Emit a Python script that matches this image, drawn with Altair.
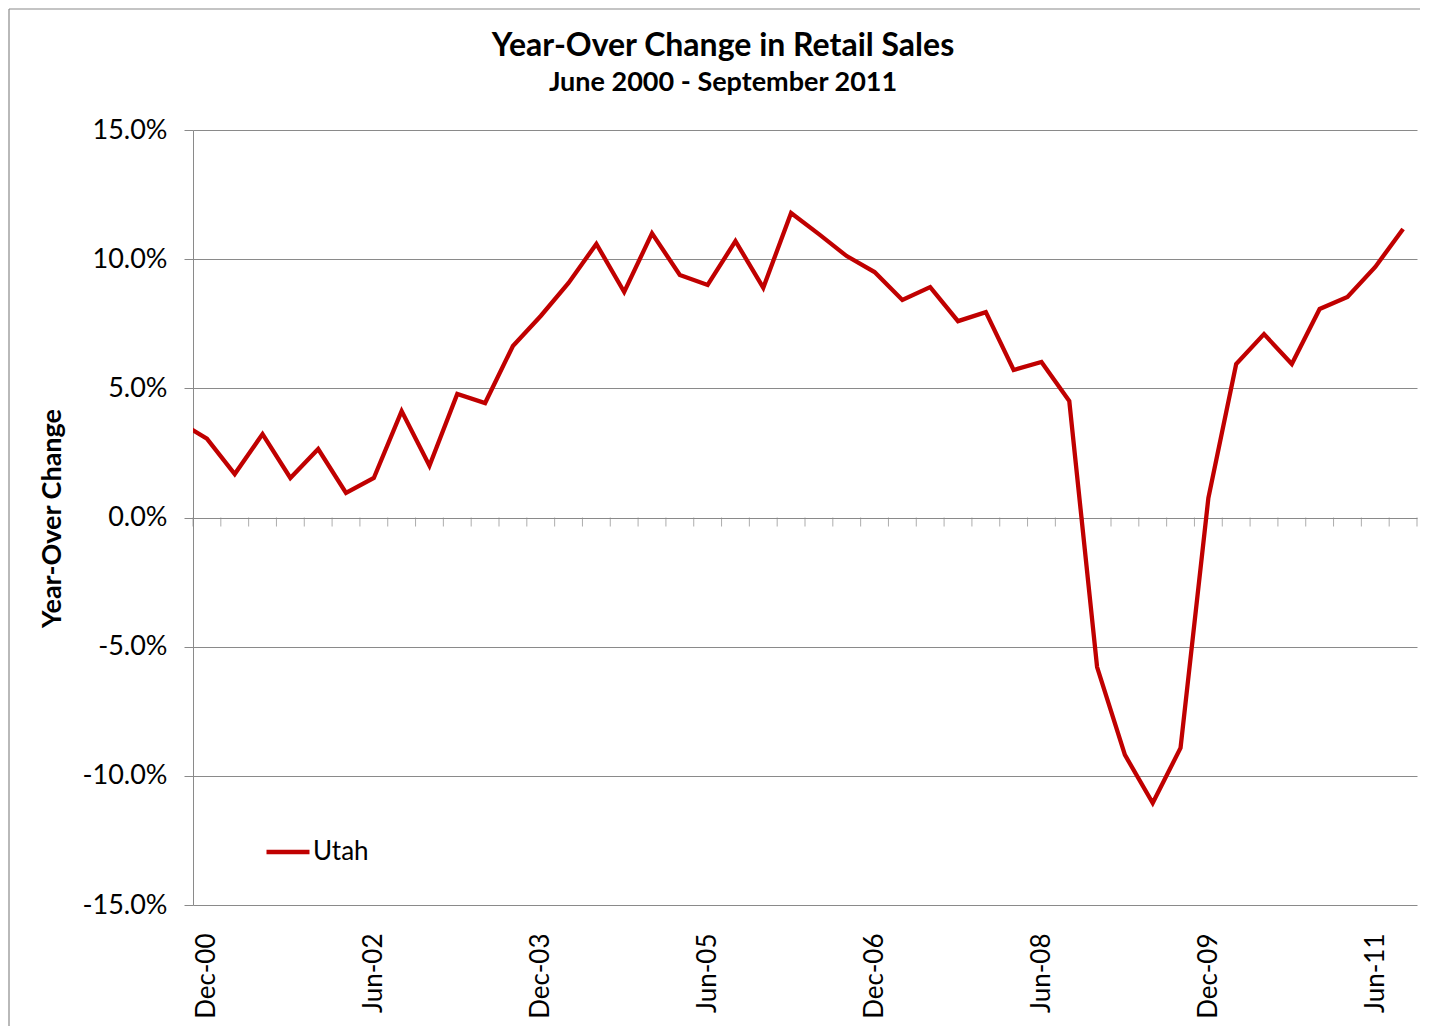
import altair as alt
import pandas as pd

# Quarterly year-over change in Utah retail sales (first value lies left of the plotted window)
quarters = ["Sep-00", "Dec-00",
            "Mar-01", "Jun-01", "Sep-01", "Dec-01",
            "Mar-02", "Jun-02", "Sep-02", "Dec-02",
            "Mar-03", "Jun-03", "Sep-03", "Dec-03",
            "Mar-04", "Jun-04", "Sep-04", "Dec-04",
            "Mar-05", "Jun-05", "Sep-05", "Dec-05",
            "Mar-06", "Jun-06", "Sep-06", "Dec-06",
            "Mar-07", "Jun-07", "Sep-07", "Dec-07",
            "Mar-08", "Jun-08", "Sep-08", "Dec-08",
            "Mar-09", "Jun-09", "Sep-09", "Dec-09",
            "Mar-10", "Jun-10", "Sep-10", "Dec-10",
            "Mar-11", "Jun-11", "Sep-11"]
utah = [3.70, 3.05,
        1.68, 3.23, 1.53, 2.65,
        0.95, 1.53, 4.12, 2.00,
        4.78, 4.43, 6.64, 7.80,
        9.08, 10.59, 8.73, 11.00,
        9.39, 9.00, 10.70, 8.89,
        11.79, 10.97, 10.12, 9.50,
        8.42, 8.92, 7.60, 7.95,
        5.71, 6.02, 4.51, -5.79,
        -9.19, -11.05, -8.92, 0.75,
        5.94, 7.10, 5.94, 8.07,
        8.54, 9.70, 11.17]
series_name = "Utah"
axis_labels = ["Dec-00", "Jun-02", "Dec-03", "Jun-05", "Dec-06", "Jun-08", "Dec-09", "Jun-11"]
y_ticks = [-0.15, -0.10, -0.05, 0.0, 0.05, 0.10, 0.15]

first_shown = quarters.index("Dec-00")
idx = [i - first_shown for i in range(len(quarters))]
df = pd.DataFrame({"idx": idx, "quarter": quarters,
                   "value": [v / 100 for v in utah], "series": series_name})
last_idx = idx[-1]
label_pos = [idx[quarters.index(q)] for q in axis_labels]
bounds = pd.DataFrame({"idx": [k - 0.5 for k in range(0, last_idx + 2)]})

FONT = "Lato"
GRID = "#8a8a8a"
RED = "#C00000"

x_scale = alt.Scale(domain=[-0.5, last_idx + 0.5], nice=False, zero=False)
y_scale = alt.Scale(domain=[y_ticks[0], y_ticks[-1]], nice=False)

label_arr = "[" + ",".join("'%s'" % s for s in axis_labels) + "]"

line = alt.Chart(df).mark_line(strokeWidth=4.3, clip=True).encode(
    x=alt.X("idx:Q", scale=x_scale, title=None,
            axis=alt.Axis(values=label_pos,
                          labelExpr=label_arr + "[round(datum.value/6)]",
                          labelAngle=270, ticks=False, tickSize=0, domain=False,
                          grid=False, labelPadding=28, labelFontSize=26,
                          labelFont=FONT, labelColor="black")),
    y=alt.Y("value:Q", scale=y_scale, title="Year-Over Change",
            axis=alt.Axis(values=y_ticks,
                          labelExpr="replace(format(datum.value, '.1%'), '\u2212', '-')",
                          grid=True, gridColor=GRID, gridWidth=1,
                          domain=True, domainColor=GRID, domainWidth=1,
                          ticks=True, tickColor=GRID, tickSize=9, tickWidth=1,
                          labelPadding=17, labelFontSize=27, labelFont=FONT,
                          labelColor="black",
                          titleFont=FONT, titleFontSize=27, titleFontWeight="bold",
                          titleColor="black", titleX=-141, titleY=388,
                          titleAlign="center", titleBaseline="middle", titleAngle=270)),
    color=alt.Color("series:N", scale=alt.Scale(range=[RED]),
                    legend=alt.Legend(title=None, orient="none", legendX=71, legendY=698,
                                      symbolType="stroke", symbolSize=1849,
                                      symbolStrokeWidth=4.3, labelFont=FONT,
                                      labelFontSize=26, labelColor="black",
                                      labelOffset=1, padding=0)),
)

ticks = alt.Chart(bounds).mark_tick(orient="vertical", size=9, thickness=1,
                                    color=GRID, yOffset=4.5).encode(
    x=alt.X("idx:Q", scale=x_scale),
    y=alt.datum(0),
)

# outer chart-area frame: only its top and left edges fall inside the picture
frame = pd.DataFrame({"a": [0]})
frame_top = alt.Chart(frame).mark_rule(color=GRID, strokeWidth=1.2, clip=False).encode(
    x=alt.value(-184), x2=alt.value(1227), y=alt.value(-121))
frame_left = alt.Chart(frame).mark_rule(color=GRID, strokeWidth=1.2, clip=False).encode(
    x=alt.value(-184), y=alt.value(-121), y2=alt.value(896))

chart = alt.layer(frame_top, frame_left, ticks, line).properties(
    width=1224, height=775,
    autosize=alt.AutoSizeParams(type="none"),
    padding={"left": 185, "top": 122, "right": 4, "bottom": 122},
    title=alt.TitleParams(text="Year-Over Change in Retail Sales",
                          subtitle="June 2000 - September 2011",
                          font=FONT, fontSize=32, fontWeight="bold", color="black",
                          subtitleFont=FONT, subtitleFontSize=27,
                          subtitleFontWeight="bold", subtitleColor="black",
                          anchor="middle", dx=-82, offset=0, dy=89, subtitlePadding=7),
).configure_view(strokeWidth=0, stroke="transparent")

chart.save("out.html", embed_options={"renderer": "svg", "actions": False})
